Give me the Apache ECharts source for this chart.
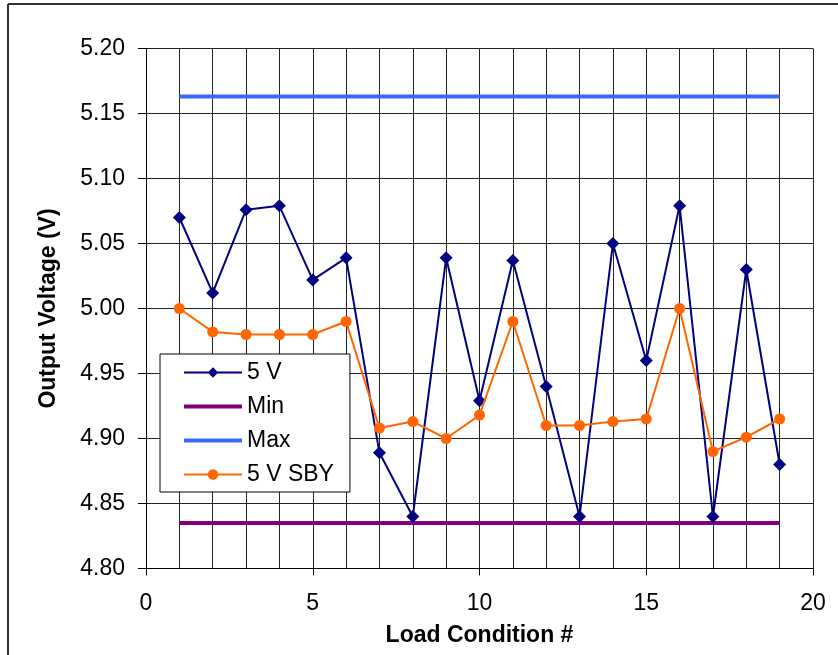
<!DOCTYPE html>
<html>
<head>
<meta charset="utf-8">
<script src="https://cdn.jsdelivr.net/npm/echarts@6/dist/echarts.min.js"></script>
<style>
html,body{margin:0;padding:0;background:#fff;}
#chart{width:838px;height:655px;}
</style>
</head>
<body>
<div id="chart"></div>
<script>
var conditions = [1,2,3,4,5,6,7,8,9,10,11,12,13,14,15,16,17,18,19];
var v5 = [5.070,5.012,5.076,5.079,5.022,5.039,4.889,4.840,5.039,4.929,5.037,4.940,4.840,5.050,4.960,5.079,4.840,5.030,4.880];
var v5sby = [5.000,4.982,4.980,4.980,4.980,4.990,4.908,4.913,4.900,4.918,4.990,4.910,4.910,4.913,4.915,5.000,4.890,4.901,4.915];
var minLimit = 4.835;
var maxLimit = 5.163;
var yTicks = [4.80,4.85,4.90,4.95,5.00,5.05,5.10,5.15,5.20];
var xTicks = [0,5,10,15,20];

function pairs(xs, ys){ return xs.map(function(x,i){ return [x, ys[i]]; }); }
function flat(xs, v){ return xs.map(function(x){ return [x, v]; }); }

var FONT = "'Liberation Sans', Arial, sans-serif";
var chart = echarts.init(document.getElementById('chart'), null, {renderer:'canvas'});
chart.setOption({
  animation:false,
  backgroundColor:'#fff',
  textStyle:{fontFamily:FONT, color:'#000'},
  graphic:[
    {type:'line', shape:{x1:8,y1:4,x2:838,y2:4}, style:{stroke:'#333',lineWidth:2}, z:100},
    {type:'line', shape:{x1:8,y1:4,x2:8,y2:655}, style:{stroke:'#333',lineWidth:2}, z:100}
  ],
  grid:{left:146, right:25, top:48.5, bottom:86.5},
  xAxis:{
    type:'value', min:xTicks[0], max:xTicks[xTicks.length-1], interval:5,
    name:'Load Condition #', nameLocation:'middle', nameGap:56,
    nameTextStyle:{fontSize:23, fontWeight:'bold', color:'#000', fontFamily:FONT},
    axisLine:{show:true, lineStyle:{color:'#000', width:1}},
    axisTick:{show:true, inside:false, length:7, lineStyle:{color:'#000'}},
    axisLabel:{fontSize:23, color:'#000', margin:24, fontFamily:FONT},
    splitLine:{show:true, lineStyle:{color:'#222', width:1}},
    minorTick:{show:false, splitNumber:5},
    minorSplitLine:{show:true, lineStyle:{color:'#222', width:1}}
  },
  yAxis:{
    type:'value', min:yTicks[0], max:yTicks[yTicks.length-1], interval:0.05,
    name:'Output Voltage (V)', nameLocation:'middle', nameGap:86, nameRotate:90,
    nameTextStyle:{fontSize:23, fontWeight:'bold', color:'#000', fontFamily:FONT},
    axisLine:{show:true, lineStyle:{color:'#000', width:1}},
    axisTick:{show:true, inside:false, length:8, lineStyle:{color:'#000'}},
    axisLabel:{fontSize:23, color:'#000', margin:21, fontFamily:FONT,
      formatter:function(v){ return v.toFixed(2); }},
    splitLine:{show:true, lineStyle:{color:'#222', width:1}}
  },
  legend:{
    show:true, orient:'vertical', left:160, top:354,
    padding:[7,16,6,22],
    backgroundColor:'#fff', borderColor:'#000', borderWidth:1,
    itemWidth:58, itemHeight:13, itemGap:11,
    textStyle:{fontSize:23, color:'#000', fontFamily:FONT, lineHeight:22},
    data:[
      {name:'5 V'},
      {name:'Min', itemStyle:{opacity:0}, lineStyle:{width:4}},
      {name:'Max', itemStyle:{opacity:0}, lineStyle:{width:4}},
      {name:'5 V SBY'}
    ]
  },
  series:[
    {name:'5 V', type:'line', data:pairs(conditions, v5),
     symbol:'diamond', symbolSize:13, showAllSymbol:true,
     itemStyle:{color:'#000080'}, lineStyle:{color:'#000080', width:2}, z:3},
    {name:'Min', type:'line', data:flat(conditions, minLimit), symbol:'none',
     itemStyle:{color:'#800080'}, lineStyle:{color:'#800080', width:4}, z:2},
    {name:'Max', type:'line', data:flat(conditions, maxLimit), symbol:'none',
     itemStyle:{color:'#3a68ff'}, lineStyle:{color:'#3a68ff', width:4}, z:2},
    {name:'5 V SBY', type:'line', data:pairs(conditions, v5sby),
     symbol:'circle', symbolSize:11, showAllSymbol:true,
     itemStyle:{color:'#ff6600'}, lineStyle:{color:'#ff6600', width:2}, z:4}
  ]
});
</script>
</body>
</html>
